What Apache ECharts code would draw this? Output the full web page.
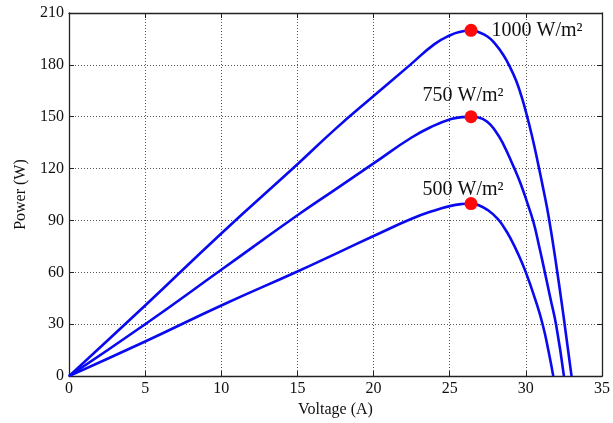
<!DOCTYPE html>
<html>
<head>
<meta charset="utf-8">
<script src="https://cdn.jsdelivr.net/npm/echarts@6/dist/echarts.min.js"></script>
<style>
html, body { margin: 0; padding: 0; background: #fff; }
#main { width: 613px; height: 423px; }
</style>
</head>
<body>
<div id="main"></div>
<script>
// P-V curves
var v1000 = [0, 5, 10, 15, 17.5, 20, 22.4, 24, 25, 25.8, 26.4, 27, 27.5, 27.9, 28.5, 29, 29.4, 29.67, 30.0, 30.4, 30.8, 31.15, 31.5, 32.0, 32.5, 33.0];
var p1000 = [0, 40.8, 82.5, 122.5, 143, 162, 180, 192, 197, 199.3, 200, 198.6, 196.3, 193, 186, 178, 170, 163, 153, 139, 123, 108, 92, 64, 33, 0];

var v750 = [0, 5, 10, 15, 17.5, 20, 22.5, 24, 25, 25.8, 26.4, 26.9, 27.5, 28, 28.5, 29.2, 29.67, 30.1, 30.5, 30.85, 31.2, 31.6, 32.0, 32.5];
var p750 = [0, 30, 61.5, 93, 108, 123, 138, 145, 148.4, 149.8, 150, 149.6, 146.8, 141.8, 134.5, 121, 111, 100, 89, 76, 62, 45.5, 29, 0];

var v500 = [0, 5, 10, 15, 17.5, 20, 22.5, 24, 25, 25.8, 26.4, 26.9, 27.5, 28.15, 28.6, 29.0, 29.5, 30.0, 30.6, 31.1, 31.5, 31.8];
var p500 = [0, 20, 40.8, 60.5, 70.7, 81, 91, 95.8, 98.3, 99.5, 99.8, 98.8, 96, 91, 85.5, 79.5, 70.5, 60, 44.8, 30, 14, 0];

// maximum power points
var mppV = [26.4, 26.4, 26.4];
var mppP = [200, 150, 99.8];
var mppText = ['1000 W/m²', '750 W/m²', '500 W/m²'];

function pairs(v, p) {
    var out = [];
    for (var i = 0; i < v.length; i++) {
        out.push([v[i], p[i]]);
    }
    return out;
}

var font = 'Liberation Serif';
var chart = echarts.init(document.getElementById('main'));

var gridLine = { show: true, lineStyle: { color: '#555', type: [1, 2], width: 1 } };
var axisLine = { show: true, onZero: false, lineStyle: { color: '#222', width: 1.3 } };
var tick = { show: true, inside: true, length: 5, lineStyle: { color: '#222', width: 1 } };

var curveStyle = { color: '#0a0af0', width: 2.6 };

var labelCfg = [
    { position: 'right', distance: 14, offset: [0, 0] },
    { position: 'top', distance: 4, offset: [-8, 0] },
    { position: 'top', distance: -3, offset: [-8, 0] }
];

var mppData = [];
for (var i = 0; i < mppV.length; i++) {
    mppData.push({
        value: [mppV[i], mppP[i]],
        label: {
            show: true,
            formatter: mppText[i],
            position: labelCfg[i].position,
            distance: labelCfg[i].distance,
            offset: labelCfg[i].offset,
            fontFamily: font,
            fontSize: 20,
            color: '#111'
        }
    });
}

var option = {
    backgroundColor: '#fff',
    animation: false,
    grid: { left: 69, right: 8, top: 13, bottom: 45 },
    xAxis: [
        {
            type: 'value', min: 0, max: 35, interval: 5,
            name: 'Voltage (A)', nameLocation: 'middle', nameGap: 25,
            nameTextStyle: { fontFamily: font, fontSize: 16, color: '#111' },
            axisLine: axisLine, axisTick: tick, splitLine: gridLine,
            axisLabel: { fontFamily: font, fontSize: 16, color: '#111', margin: 5 }
        },
        {
            type: 'value', position: 'top', min: 0, max: 35, interval: 5,
            axisLine: axisLine, axisTick: tick, splitLine: { show: false },
            axisLabel: { show: false }
        }
    ],
    yAxis: [
        {
            type: 'value', min: 0, max: 210, interval: 30,
            name: 'Power (W)', nameLocation: 'middle', nameGap: 38,
            nameTextStyle: { fontFamily: font, fontSize: 16, color: '#111' },
            axisLine: axisLine, axisTick: tick, splitLine: gridLine,
            axisLabel: { fontFamily: font, fontSize: 16, color: '#111', margin: 5 }
        },
        {
            type: 'value', position: 'right', min: 0, max: 210, interval: 30,
            axisLine: axisLine, axisTick: tick, splitLine: { show: false },
            axisLabel: { show: false }
        }
    ],
    series: [
        { name: '1000', type: 'line', smooth: 0.5, showSymbol: false, lineStyle: curveStyle, data: pairs(v1000, p1000) },
        { name: '750', type: 'line', smooth: 0.5, showSymbol: false, lineStyle: curveStyle, data: pairs(v750, p750) },
        { name: '500', type: 'line', smooth: 0.5, showSymbol: false, lineStyle: curveStyle, data: pairs(v500, p500) },
        {
            name: 'MPP', type: 'scatter', symbol: 'circle', symbolSize: 13,
            itemStyle: { color: '#ff0a0a', opacity: 1 },
            z: 5,
            data: mppData
        }
    ]
};

chart.setOption(option);
</script>
</body>
</html>
